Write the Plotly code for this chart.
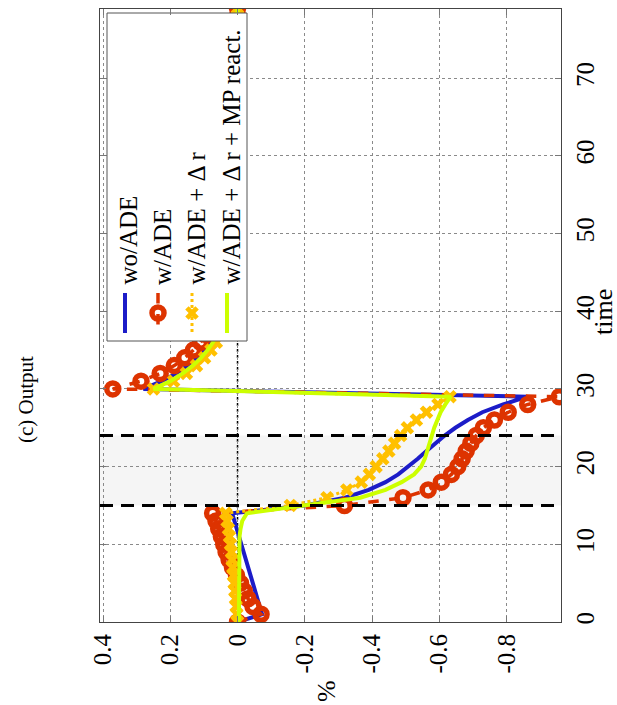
import plotly.graph_objects as go

# ---- data -------------------------------------------------------------
time = list(range(0, 80))

wo_ade = [
    0.0, -0.073, -0.066, -0.059, -0.052, -0.045, -0.038, -0.031, -0.024, -0.017,
    -0.011, -0.004, 0.003, 0.010, 0.016,
    -0.200, -0.320, -0.390, -0.440, -0.478, -0.508, -0.536, -0.562, -0.588, -0.616,
    -0.648, -0.685, -0.728, -0.790, -0.862,
    0.280, 0.225, 0.182, 0.148, 0.121, 0.099, 0.081,
    0.066, 0.054, 0.044, 0.036, 0.030, 0.024, 0.020, 0.016, 0.013, 0.011,
    0.009, 0.007, 0.006, 0.005, 0.004, 0.003, 0.003, 0.002, 0.002, 0.002,
    0.001, 0.001, 0.001, 0.001, 0.001, 0.0, 0.0, 0.0, 0.0, 0.0,
    0.0, 0.0, 0.0, 0.0, 0.0, 0.0, 0.0, 0.0, 0.0, 0.0,
    0.0, 0.0, 0.0,
]

w_ade = [
    0.0, -0.070, -0.046, -0.031, -0.020, -0.009, 0.003, 0.015, 0.025, 0.034,
    0.041, 0.048, 0.056, 0.064, 0.074,
    -0.318, -0.492, -0.567, -0.606, -0.636, -0.655, -0.668, -0.680, -0.694, -0.710,
    -0.731, -0.764, -0.805, -0.863, -0.957,
    0.371, 0.287, 0.230, 0.188, 0.157, 0.131, 0.110,
    0.092, 0.077, 0.065, 0.055, 0.046, 0.039, 0.033, 0.028, 0.024, 0.020,
    0.017, 0.014, 0.012, 0.010, 0.009, 0.008, 0.007, 0.006, 0.005, 0.004,
    0.004, 0.003, 0.003, 0.002, 0.002, 0.002, 0.001, 0.001, 0.001, 0.001,
    0.001, 0.0, 0.0, 0.0, 0.0, 0.0, 0.0, 0.0, 0.0, 0.0,
    0.0, 0.0, 0.0,
]

w_ade_dr = [
    0.0, 0.002, 0.004, 0.006, 0.008, 0.010, 0.012, 0.014, 0.016, 0.018,
    0.021, 0.024, 0.027, 0.031, 0.035,
    -0.157, -0.266, -0.325, -0.368, -0.392, -0.412, -0.432, -0.450, -0.467, -0.485,
    -0.505, -0.532, -0.562, -0.596, -0.632,
    0.250, 0.190, 0.152, 0.122, 0.098, 0.079, 0.063,
    0.050, 0.040, 0.032, 0.026, 0.021, 0.017, 0.013, 0.011, 0.009, 0.007,
    0.005, 0.004, 0.003, 0.003, 0.002, 0.002, 0.001, 0.001, 0.001, 0.0,
    0.0, 0.0, 0.0, 0.0, 0.0, 0.0, 0.0, 0.0, 0.0, 0.0,
    0.0, 0.0, 0.0, 0.0, 0.0, 0.0, 0.0, 0.0, 0.0, 0.0,
    0.0, 0.0, 0.0,
]

w_ade_dr_mp = [
    -0.004, -0.004, -0.004, -0.004, -0.004, -0.004, -0.004, -0.004, -0.004, -0.004,
    -0.004, -0.006, -0.009, -0.014, -0.028,
    -0.195, -0.365, -0.440, -0.488, -0.525, -0.546, -0.557, -0.565, -0.572, -0.578,
    -0.585, -0.594, -0.604, -0.618, -0.634,
    0.250, 0.200, 0.163, 0.133, 0.109, 0.089, 0.073,
    0.060, 0.049, 0.040, 0.033, 0.027, 0.022, 0.018, 0.015, 0.012, 0.010,
    0.008, 0.007, 0.005, 0.004, 0.004, 0.003, 0.002, 0.002, 0.002, 0.001,
    0.001, 0.001, 0.0, 0.0, 0.0, 0.0, 0.0, 0.0, 0.0, 0.0,
    0.0, 0.0, 0.0, 0.0, 0.0, 0.0, 0.0, 0.0, 0.0, 0.0,
    0.0, 0.0, 0.0,
]

pct_ticks = [0.4, 0.2, 0.0, -0.2, -0.4, -0.6, -0.8]
pct_labels = ["0.4", "0.2", "0", "-0.2", "-0.4", "-0.6", "-0.8"]
time_ticks = [0, 10, 20, 30, 40, 50, 60, 70]
time_labels = ["0", "10", "20", "30", "40", "50", "60", "70"]

series_names = ["wo/ADE", "w/ADE", "w/ADE + \u0394 r", "w/ADE + \u0394 r + MP react."]

# disturbance window
win_start, win_end = 15, 24

# ---- styling ----------------------------------------------------------
BLUE = "#1c1cc8"
RED = "#dd3300"
YELLOW = "#ffc000"
GREEN = "#ccff00"
FONT = "Liberation Serif"

W, H = 617, 705
L, R, T, B = 100, 56, 9, 83
PLOT_W = W - L - R
PLOT_H = H - T - B


def px(x, y):
    """Pixel position on the page -> paper coordinates."""
    return (x - L) / PLOT_W, (H - B - y) / PLOT_H


fig = go.Figure()

styles = [
    dict(line=dict(color=BLUE, width=4), mode="lines"),
    dict(line=dict(color=RED, width=3.5, dash="dash"), mode="lines+markers",
         marker=dict(symbol="circle-open", size=12, color=RED, line=dict(width=5.5, color=RED))),
    dict(line=dict(color=YELLOW, width=3, dash="dot"), mode="lines+markers",
         marker=dict(symbol="x", size=12, color=YELLOW, line=dict(width=0))),
    dict(line=dict(color=GREEN, width=4), mode="lines"),
]

for vals, name, st in zip([wo_ade, w_ade, w_ade_dr, w_ade_dr_mp], series_names, styles):
    fig.add_trace(go.Scatter(x=vals, y=time, name=name, xaxis="x", yaxis="y", **st))

# ---- hand-built legend on a pixel overlay -----------------------------
box_x0, box_x1, box_y0, box_y1 = 107, 247, 13, 341
fig.add_trace(go.Scatter(
    x=[box_x0, box_x1, box_x1, box_x0, box_x0],
    y=[box_y0, box_y0, box_y1, box_y1, box_y0],
    mode="lines", fill="toself", fillcolor="white",
    line=dict(color="#555555", width=1),
    xaxis="x2", yaxis="y2", hoverinfo="skip",
))

col_x = [125, 158, 192, 227]
text_x = [128, 162, 196, 231]
sample_y0, sample_y1 = 293, 333
for cx, st in zip(col_x, styles):
    fig.add_trace(go.Scatter(
        x=[cx, cx], y=[sample_y0, sample_y1], mode="lines",
        line=st["line"], xaxis="x2", yaxis="y2", hoverinfo="skip",
    ))
    if "marker" in st:
        fig.add_trace(go.Scatter(
            x=[cx], y=[(sample_y0 + sample_y1) / 2], mode="markers",
            marker=st["marker"], xaxis="x2", yaxis="y2", hoverinfo="skip",
        ))

annotations = []
for tx, name in zip(text_x, series_names):
    annotations.append(dict(
        x=tx, y=287, xref="x2", yref="y2", text=name, showarrow=False,
        textangle=-90, xanchor="center", yanchor="bottom",
        font=dict(family=FONT, size=25, color="black"),
    ))

# title and axis titles
tx_, ty_ = px(26, 400)
annotations.append(dict(x=tx_, y=ty_, xref="paper", yref="paper", text="(c) Output",
                        showarrow=False, textangle=-90, xanchor="center", yanchor="middle",
                        font=dict(family=FONT, size=21, color="black")))
tx_, ty_ = px(326, 691)
annotations.append(dict(x=tx_, y=ty_, xref="paper", yref="paper", text="%",
                        showarrow=False, textangle=-90, xanchor="center", yanchor="middle",
                        font=dict(family=FONT, size=26, color="black")))
tx_, ty_ = px(603, 312)
annotations.append(dict(x=tx_, y=ty_, xref="paper", yref="paper", text="time",
                        showarrow=False, textangle=-90, xanchor="center", yanchor="middle",
                        font=dict(family=FONT, size=26, color="black")))

shapes = [
    dict(type="rect", xref="paper", x0=0, x1=1, yref="y", y0=win_start, y1=win_end,
         fillcolor="#f5f5f5", line=dict(width=0), layer="below"),
    dict(type="line", xref="x", x0=0, x1=0, yref="paper", y0=0, y1=1,
         line=dict(color="black", width=1.5, dash="dot"), layer="below"),
    dict(type="line", xref="paper", x0=0, x1=1, yref="y", y0=win_start, y1=win_start,
         line=dict(color="black", width=3, dash="13px,8px")),
    dict(type="line", xref="paper", x0=0, x1=1, yref="y", y0=win_end, y1=win_end,
         line=dict(color="black", width=3, dash="13px,8px")),
]

axis_common = dict(
    ticks="inside", ticklen=6, tickcolor="#777777", tickwidth=1,
    showline=True, linecolor="#444444", linewidth=1, mirror="ticks",
    showgrid=True, gridcolor="#8a8a8a", griddash="dot", gridwidth=1,
    zeroline=False, tickangle=-90,
    tickfont=dict(family=FONT, size=25, color="black"),
)

fig.update_layout(
    width=W, height=H,
    margin=dict(l=L, r=R, t=T, b=B),
    plot_bgcolor="white", paper_bgcolor="white",
    showlegend=False,
    font=dict(family=FONT, size=25, color="black"),
    xaxis=dict(range=[0.409, -0.962], tickvals=pct_ticks, ticktext=pct_labels,
               ticklabelstandoff=1, **axis_common),
    yaxis=dict(range=[0, 78.9], tickvals=time_ticks, ticktext=time_labels,
               side="right", ticklabelstandoff=2, **axis_common),
    xaxis2=dict(overlaying="x", range=[L, W - R], visible=False, anchor="y2"),
    yaxis2=dict(overlaying="y", range=[H - B, T], visible=False, anchor="x2"),
    annotations=annotations,
    shapes=shapes,
)

fig.write_html("out.html")
